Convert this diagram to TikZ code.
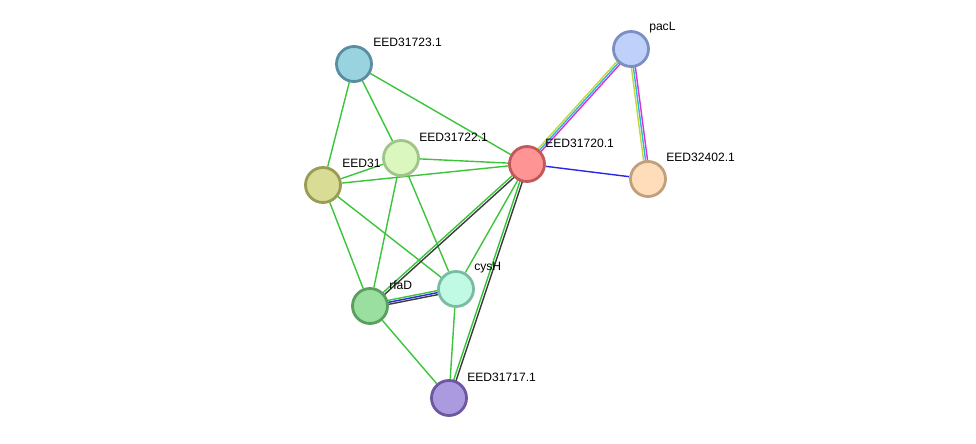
\documentclass[tikz,border=0pt]{standalone}
\usepackage{fontspec}
\setmainfont{Liberation Sans}
\usepackage{xcolor}
\usetikzlibrary{calc}
\pgfdeclarelayer{bg}
\pgfsetlayers{bg,main}

\definecolor{txtgreen}{RGB}{60,196,60}
\definecolor{coexgray}{RGB}{60,60,60}
\definecolor{bindblue}{RGB}{40,40,230}
\definecolor{dbyellow}{RGB}{196,214,60}
\definecolor{dbcyan}{RGB}{40,186,214}
\definecolor{dbpink}{RGB}{216,50,216}

\newcommand{\edgeline}[4]{\draw[link, #4] ($(#1)!#3!90:(#2)$) -- ($(#2)!#3!-90:(#1)$);}

\begin{document}
\begin{tikzpicture}[x=0.025cm, y=-0.025cm,
    prot/.style={circle, draw, line width=2pt, minimum size=0.875cm, inner sep=0pt},
    lbl/.style={anchor=west, inner sep=0pt, font=\fontsize{8.6}{10}\selectfont},
    link/.style={line width=1pt}]
    \useasboundingbox (0,0) rectangle (976,444);

    % proteins
    \node[prot, fill={rgb,255:red,154;green,211;blue,224}, draw={rgb,255:red,88;green,142;blue,160}] (n23) at (354,64) {};
    \node[prot, fill={rgb,255:red,191;green,208;blue,250}, draw={rgb,255:red,124;green,143;blue,195}] (npac) at (631,49) {};
    \node[prot, fill={rgb,255:red,216;green,220;blue,148}, draw={rgb,255:red,154;green,156;blue,85}] (n21) at (323,185) {};
    \node[lbl] (t21) at (342,163) {EED31};
    \node[prot, fill={rgb,255:red,218;green,247;blue,192}, draw={rgb,255:red,161;green,196;blue,138}] (n22) at (401,158) {};
    \node[prot, fill={rgb,255:red,255;green,148;blue,148}, draw={rgb,255:red,192;green,90;blue,90}] (n20) at (527,164) {};
    \node[prot, fill={rgb,255:red,255;green,221;blue,187}, draw={rgb,255:red,192;green,160;blue,125}] (n402) at (648,179) {};
    \node[prot, fill={rgb,255:red,192;green,250;blue,228}, draw={rgb,255:red,122;green,187;blue,163}] (ncys) at (456,289) {};
    \node[prot, fill={rgb,255:red,155;green,223;blue,160}, draw={rgb,255:red,90;green,159;blue,96}] (nrfa) at (370,306) {};
    \node[prot, fill={rgb,255:red,172;green,154;blue,224}, draw={rgb,255:red,109;green,87;blue,160}] (n17) at (449,398) {};

    % labels
    \node[lbl] (t23) at (373,42) {EED31723.1};
    \node[lbl] (tpac) at (649,28) {pacL};
    \node[lbl] (t22) at (419,137) {EED31722.1};
    \node[lbl] (t20) at (545,143) {EED31720.1};
    \node[lbl] (t402) at (666,157) {EED32402.1};
    \node[lbl] (tcys) at (474,268) {cysH};
    \node[lbl] (trfa) at (389,285) {rfaD};
    \node[lbl] (t17) at (467,377) {EED31717.1};

    % links
    \begin{pgfonlayer}{bg}
        \foreach \a/\b in {n23/n20, n23/n22, n23/n21, n21/n22, n21/n20, n21/nrfa, n21/ncys,
                           n22/n20, n22/nrfa, n22/ncys, n20/ncys, nrfa/n17, ncys/n17}
            \draw[link, txtgreen] (\a) -- (\b);
        \draw[link, bindblue] (n20) -- (n402);
        \edgeline{n20}{npac}{0.05cm}{dbyellow}
        \edgeline{n20}{npac}{0cm}{dbcyan}
        \edgeline{n20}{npac}{-0.05cm}{dbpink}
        \edgeline{npac}{n402}{-0.05cm}{dbyellow}
        \edgeline{npac}{n402}{0cm}{dbcyan}
        \edgeline{npac}{n402}{0.05cm}{dbpink}
        \edgeline{n20}{nrfa}{-0.03cm}{txtgreen}
        \edgeline{n20}{nrfa}{0.03cm}{coexgray}
        \edgeline{n20}{n17}{-0.03cm}{txtgreen}
        \edgeline{n20}{n17}{0.03cm}{coexgray}
        \edgeline{nrfa}{ncys}{0.05cm}{txtgreen}
        \edgeline{nrfa}{ncys}{0cm}{bindblue}
        \edgeline{nrfa}{ncys}{-0.05cm}{coexgray}
    \end{pgfonlayer}
\end{tikzpicture}
\end{document}
